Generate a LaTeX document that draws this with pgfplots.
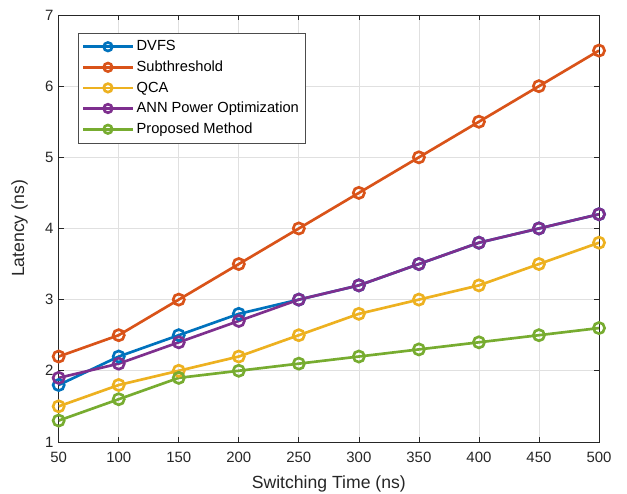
\documentclass[border=0pt]{standalone}
\usepackage{pgfplots}
\pgfplotsset{compat=1.18}
\usepackage{fontspec}
\setmainfont{Liberation Sans}
\definecolor{c1}{RGB}{0,114,189}
\definecolor{c2}{RGB}{217,83,25}
\definecolor{c3}{RGB}{237,177,32}
\definecolor{c4}{RGB}{126,47,142}
\definecolor{c5}{RGB}{119,172,48}
\begin{document}
\begin{tikzpicture}
\begin{axis}[
  scale only axis, width=405pt, height=320pt,
  xmin=50, xmax=500, ymin=1, ymax=7,
  xtick={50,100,...,500}, ytick={1,2,...,7},
  tick align=inside, tick style={color=black!85, line width=0.5pt},
  major tick length=4pt,
  grid=major, grid style={color=black!12, line width=0.5pt},
  axis line style={color=black!85, line width=0.6pt},
  /pgf/number format/assume math mode=true,
  ticklabel style={font=\fontsize{11.2}{13}\selectfont, color=black!85},
  xticklabel style={yshift=-4pt},
  yticklabel style={xshift=-0.5pt},
  xlabel={Switching Time (ns)}, ylabel={Latency (ns)},
  label style={font=\fontsize{13.2}{15}\selectfont, color=black!85},
  xlabel style={yshift=-3pt}, ylabel style={yshift=6pt},
  legend style={at={(0.035,0.958)}, anchor=north west, font=\fontsize{11}{13}\selectfont,
    draw=black!70, line width=0.5pt, inner xsep=3pt, inner ysep=3.5pt, row sep=2.1pt, cells={anchor=west}},
  legend image code/.code={
    \draw[mark size=3.2pt, mark repeat=2,mark phase=2] plot coordinates {(0cm,0cm) (0.65cm,0cm) (1.3cm,0cm)};
  },
  every axis plot/.append style={line width=2pt, mark=o, mark size=4.2pt},
]
\addplot[color=c1] coordinates {(50,1.8)(100,2.2)(150,2.5)(200,2.8)(250,3.0)(300,3.2)(350,3.5)(400,3.8)(450,4.0)(500,4.2)};
\addplot[color=c2] coordinates {(50,2.2)(100,2.5)(150,3.0)(200,3.5)(250,4.0)(300,4.5)(350,5.0)(400,5.5)(450,6.0)(500,6.5)};
\addplot[color=c3] coordinates {(50,1.5)(100,1.8)(150,2.0)(200,2.2)(250,2.5)(300,2.8)(350,3.0)(400,3.2)(450,3.5)(500,3.8)};
\addplot[color=c4] coordinates {(50,1.9)(100,2.1)(150,2.4)(200,2.7)(250,3.0)(300,3.2)(350,3.5)(400,3.8)(450,4.0)(500,4.2)};
\addplot[color=c5] coordinates {(50,1.3)(100,1.6)(150,1.9)(200,2.0)(250,2.1)(300,2.2)(350,2.3)(400,2.4)(450,2.5)(500,2.6)};
\legend{DVFS, Subthreshold, QCA, ANN Power Optimization, Proposed Method}
\end{axis}
\pgfresetboundingbox
\useasboundingbox (-44pt,-39pt) rectangle (426pt,331.25pt);
\end{tikzpicture}
\end{document}
